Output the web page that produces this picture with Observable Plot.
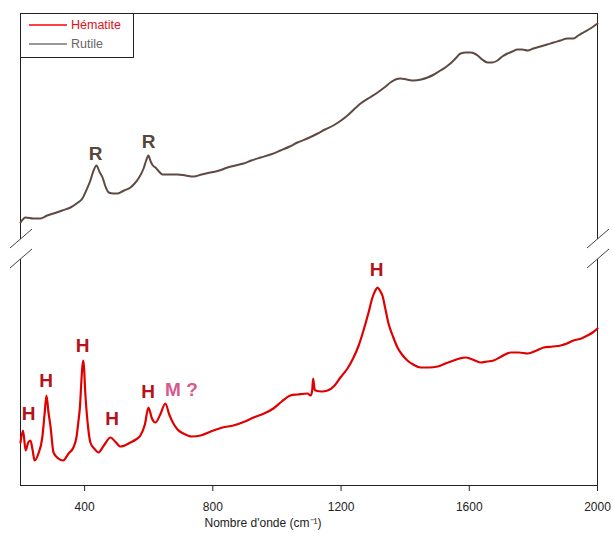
<!DOCTYPE html>
<html><head><meta charset="utf-8">
<script src="https://cdn.jsdelivr.net/npm/d3@7"></script>
<script src="https://cdn.jsdelivr.net/npm/@observablehq/plot@0.6"></script>
<style>
body{margin:0;background:#fff;font-family:"Liberation Sans",Arial,sans-serif}
#wrap{position:relative;width:613px;height:533px}
</style></head>
<body><div id="wrap"></div>
<script>
const seriesNames = ["Hématite", "Rutile"];
const seriesColors = ["#e00000", "#5e4a42"];

const wavenumberH = [200,208,216,224,231,238,244,256,268,275,281,287,294,303,318,333,350,365,375,381,386,389,393,396,399,401,406,412,418,430,443,460,481,495,512,543,560,574,588,599,610,621,636,652,664,677,690,708,735,762,802,830,864,900,927,960,989,1015,1042,1065,1095,1105,1110,1113,1117,1120,1140,1158,1180,1198,1220,1239,1255,1270,1285,1298,1307,1314,1321,1329,1338,1348,1362,1376,1390,1407,1425,1448,1475,1501,1525,1551,1570,1588,1610,1635,1655,1676,1700,1729,1755,1782,1810,1832,1860,1885,1905,1925,1950,1969,1985,2000];
const intensityH = [44,56,36,44,46,36,26,33,49,72,91,75,59,34,28,26,33,39,50,66,82,100,120,126,115,100,76,56,44,38,34,41,49,45,40,44,47,51,62,79,68,64,72,83,72,63,57,53,50,51,56,59,61,65,69,73,78,85,91,92,93,91,96,108,98,96,95,96,101,109,118,129,141,156,173,189,196,199,196,191,178,163,150,139,132,126,122,119,119,120,123,126,128,129,127,124,125,126,130,134,134,133,136,139,140,141,143,146,148,151,154,158];

const wavenumberR = [200,216,240,262,283,303,330,356,375,393,405,418,428,437,446,456,465,475,490,503,523,543,556,568,584,592,599,606,613,621,632,643,665,690,715,740,765,793,820,846,870,896,920,949,980,1011,1040,1064,1095,1127,1150,1176,1200,1220,1240,1261,1290,1314,1335,1354,1370,1385,1405,1426,1450,1470,1490,1510,1525,1541,1557,1573,1590,1604,1616,1626,1640,1657,1672,1688,1703,1719,1735,1750,1765,1782,1800,1822,1843,1863,1885,1906,1925,1940,1956,1978,2000];
const intensityR = [264,269,268,268,271,273,276,279,283,288,296,306,316,321,315,309,300,294,293,293,296,299,303,308,318,326,331,325,321,319,315,312,312,312,311,310,312,314,316,319,321,323,326,329,332,336,340,344,348,353,357,361,366,371,377,383,389,394,399,404,407,408,407,406,407,409,412,416,419,423,428,433,434,434,433,431,427,424,424,426,430,433,435,437,437,436,438,440,442,444,446,448,448,451,454,458,463];

const peakText = ["H","H","H","H","H","M ?","H","R","R"];
const peakX = [225,280,394,486,598,702,1311,434,600];
const peakY = [73,106,141,68,95,97,217,333,345];

const xTicks = [400,800,1200,1600,2000];
const xLabel = "Nombre d'onde (cm⁻¹)";

const hem = wavenumberH.map((w,i)=>({wn:w, v:intensityH[i]}));
const rut = wavenumberR.map((w,i)=>({wn:w, v:intensityR[i]}));
const peaks = peakText.map((t,i)=>({t, x:peakX[i], y:peakY[i]}));
const peakColor = t => t === "H" ? "#b5121b" : t === "R" ? "#57473b" : "#d75a8c";

const plot = Plot.plot({
  width: 613, height: 533,
  marginLeft: 20, marginRight: 16, marginTop: 13, marginBottom: 48,
  x: {domain: [200, 2000]},
  y: {domain: [1, 473], axis: null},
  style: {fontFamily: "'Liberation Sans', Arial, sans-serif", fontSize: "12px", color: "#222", background: "#fff"},
  marks: [
    Plot.ruleY([1], {stroke: "#222"}),
    Plot.ruleY([473], {stroke: "#222"}),
    Plot.ruleX([200, 2000], {y1: 1, y2: 227, stroke: "#222"}),
    Plot.ruleX([200, 2000], {y1: 247, y2: 473, stroke: "#222"}),
    Plot.axisX({ticks: xTicks, tickFormat: d3.format("d"), tickSize: 6, tickPadding: 11, label: null, stroke: "#222", fill: "#222"}),
    Plot.line(rut, {x: "wn", y: "v", stroke: seriesColors[1], strokeWidth: 2, curve: "monotone-x"}),
    Plot.line(hem, {x: "wn", y: "v", stroke: seriesColors[0], strokeWidth: 2.2, curve: "monotone-x"}),
    Plot.text(peaks, {x: "x", y: "y", text: "t", fill: d => peakColor(d.t), fontSize: 19, fontWeight: "bold"}),
    Plot.text([xLabel], {text: d => d, frameAnchor: "bottom", dx: -46, dy: 41, fontSize: 12, fill: "#222"})
  ]
});

const sx = plot.scale("x"), sy = plot.scale("y");
const svg = d3.select(plot);
for (const xv of [200, 2000]) {
  for (const yv of [247, 227]) {
    const px = sx.apply(xv), py = sy.apply(yv);
    svg.append("line").attr("x1", px - 10).attr("y1", py + 9).attr("x2", px + 12).attr("y2", py - 10)
      .attr("stroke", "#444").attr("stroke-width", 1);
  }
}

// legend box inside the SVG, top-left of the frame
const lg = svg.append("g").attr("transform", `translate(${sx.apply(200)},${sy.apply(473)})`)
  .attr("text-anchor", "start");
lg.append("rect").attr("x", 0.5).attr("y", 0.5).attr("width", 113).attr("height", 44)
  .attr("fill", "#fff").attr("stroke", "#222");
const legendLine = ["#ff0000", "#777"];
const legendText = ["#e0101a", "#666"];
seriesNames.forEach((n, i) => {
  const yy = 12 + i * 19;
  lg.append("line").attr("x1", 9).attr("x2", 47).attr("y1", yy).attr("y2", yy)
    .attr("stroke", legendLine[i]).attr("stroke-width", 1.3);
  lg.append("text").attr("x", 51).attr("y", yy).attr("dy", "0.35em").attr("text-anchor", "start")
    .attr("font-size", 12.5).attr("fill", legendText[i]).text(n);
});

document.getElementById("wrap").appendChild(plot);
</script></body></html>
